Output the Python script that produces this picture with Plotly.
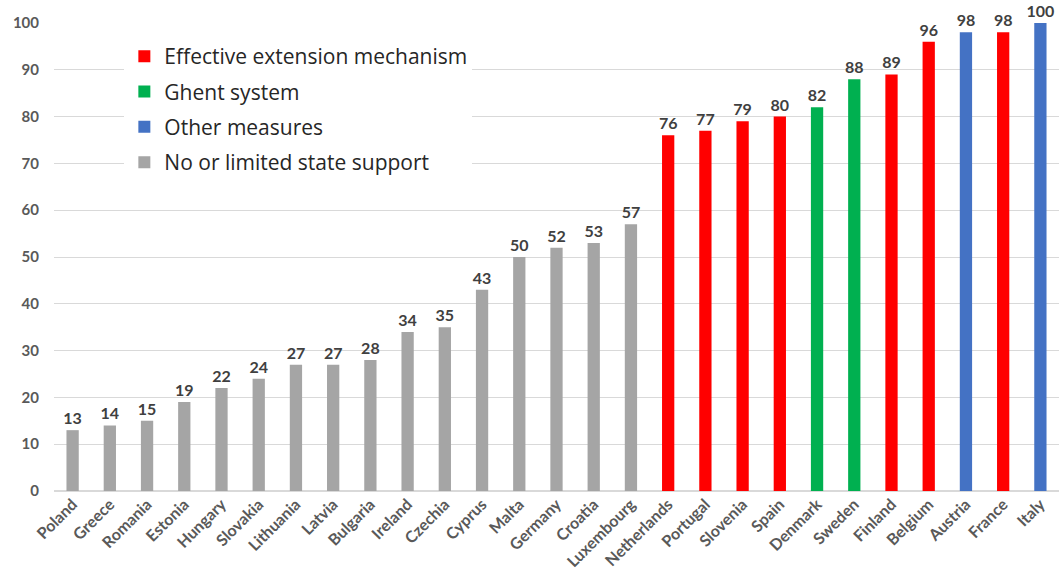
import plotly.graph_objects as go

countries = ["Poland", "Greece", "Romania", "Estonia", "Hungary", "Slovakia", "Lithuania",
             "Latvia", "Bulgaria", "Ireland", "Czechia", "Cyprus", "Malta", "Germany",
             "Croatia", "Luxembourg", "Netherlands", "Portugal", "Slovenia", "Spain",
             "Denmark", "Sweden", "Finland", "Belgium", "Austria", "France", "Italy"]
values = [13, 14, 15, 19, 22, 24, 27, 27, 28, 34, 35, 43, 50, 52, 53, 57,
          76, 77, 79, 80, 82, 88, 89, 96, 98, 98, 100]
groups = ["none"] * 16 + ["ext", "ext", "ext", "ext", "ghent", "ghent", "ext", "ext",
                          "other", "ext", "other"]

group_names = {
    "ext": "Effective extension mechanism",
    "ghent": "Ghent system",
    "other": "Other measures",
    "none": "No or limited state support",
}
group_colors = {"ext": "#FF0000", "ghent": "#00B050", "other": "#4472C4", "none": "#A5A5A5"}
legend_order = ["ext", "ghent", "other", "none"]

fig = go.Figure()
for g in legend_order:
    xs = [c for c, gg in zip(countries, groups) if gg == g]
    ys = [v for v, gg in zip(values, groups) if gg == g]
    fig.add_trace(go.Bar(
        x=xs, y=ys, name=group_names[g], legendgroup=g,
        marker=dict(color=group_colors[g], line=dict(width=0)),
        width=0.33,
        text=[str(v) for v in ys], textposition="outside",
        textfont=dict(family="Lato, Open Sans, sans-serif", size=16, color="#404040", weight="bold"),
        constraintext="none",
        cliponaxis=False,
    ))

fig.update_layout(
    width=1059, height=581,
    barmode="overlay",
    plot_bgcolor="white", paper_bgcolor="white",
    margin=dict(l=54, r=0, t=23, b=90),
    font=dict(family="Lato, Open Sans, sans-serif", color="#595959"),
    xaxis=dict(categoryorder="array", categoryarray=countries, tickangle=-45,
               tickfont=dict(size=16, color="#595959", weight="bold"), showline=False,
               showgrid=False, ticks="", automargin=False),
    yaxis=dict(range=[0, 100], dtick=10, showgrid=True, gridcolor="#D9D9D9", gridwidth=1,
               tickfont=dict(size=15, color="#595959", weight="bold"), zeroline=True,
               zerolinecolor="#D9D9D9", ticklen=0, ticks="", ticklabelstandoff=14,
               automargin=False),
    legend=dict(x=0.07, y=0.972, xanchor="left", yanchor="top", bgcolor="white",
                font=dict(size=21, color="#262626", family="Open Sans, sans-serif"),
                itemsizing="constant", tracegroupgap=5, traceorder="grouped"),
    bargap=0.65,
)

# remove the page's default 8px body margin so the figure fills the window exactly
fig.write_html("out.html",
               config={"displayModeBar": False},
               post_script="document.body.style.margin='0';document.body.style.overflow='hidden';")
